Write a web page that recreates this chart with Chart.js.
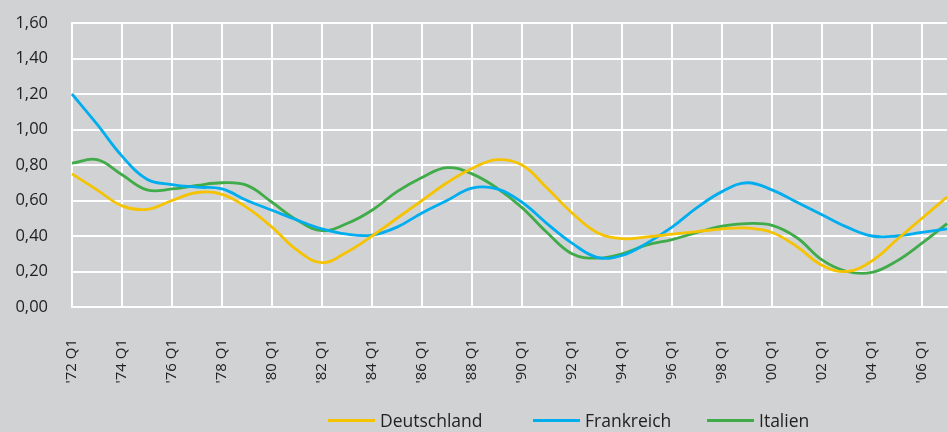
<!DOCTYPE html>
<html>
<head>
<meta charset="utf-8">
<script src="https://cdn.jsdelivr.net/npm/chart.js@4"></script>
<style>
  html, body { margin: 0; padding: 0; background: #d1d2d4; }
  #wrap { position: relative; width: 948px; height: 432px; background: #d1d2d4; overflow: hidden; }
  .item { position: absolute; top: 408px; height: 24px; display: flex; align-items: center;
          font-family: "Open Sans", "Noto Sans", sans-serif; font-size: 17.5px; color: #222; white-space: nowrap; }
  .swatch { width: 47px; height: 3px; margin-right: 5px; }
</style>
</head>
<body>
<div id="wrap">
  <canvas id="c" width="948" height="432"></canvas>
</div>
<script>
const categories = ["'72 Q1","'73 Q1","'74 Q1","'75 Q1","'76 Q1","'77 Q1","'78 Q1","'79 Q1","'80 Q1","'81 Q1",
  "'82 Q1","'83 Q1","'84 Q1","'85 Q1","'86 Q1","'87 Q1","'88 Q1","'89 Q1","'90 Q1","'91 Q1",
  "'92 Q1","'93 Q1","'94 Q1","'95 Q1","'96 Q1","'97 Q1","'98 Q1","'99 Q1","'00 Q1","'01 Q1",
  "'02 Q1","'03 Q1","'04 Q1","'05 Q1","'06 Q1","'07 Q1"];

const deutschland = [0.75,0.66,0.57,0.55,0.60,0.645,0.635,0.56,0.45,0.32,
  0.25,0.31,0.40,0.50,0.60,0.70,0.78,0.83,0.80,0.67,
  0.53,0.42,0.385,0.395,0.41,0.425,0.44,0.445,0.42,0.34,
  0.235,0.20,0.26,0.38,0.50,0.62];

const frankreich = [1.20,1.03,0.85,0.72,0.69,0.675,0.665,0.60,0.545,0.49,
  0.44,0.41,0.405,0.45,0.53,0.60,0.67,0.665,0.59,0.47,
  0.36,0.28,0.29,0.36,0.45,0.56,0.65,0.70,0.66,0.59,
  0.52,0.45,0.40,0.40,0.42,0.44];

const italien = [0.81,0.83,0.745,0.66,0.665,0.685,0.70,0.685,0.59,0.49,
  0.43,0.47,0.545,0.65,0.73,0.785,0.75,0.67,0.56,0.42,
  0.30,0.275,0.30,0.35,0.38,0.42,0.455,0.47,0.46,0.39,
  0.265,0.20,0.195,0.26,0.36,0.47];

const seriesNames = ["Deutschland", "Frankreich", "Italien"];
const seriesColors = ["#f6c300", "#00aeef", "#3fab49"];
const yTicks = [0, 0.2, 0.4, 0.6, 0.8, 1.0, 1.2, 1.4, 1.6];

const seriesData = [deutschland, frankreich, italien];
const xFont = { family: "'Open Sans', 'Noto Sans', sans-serif", size: 15 };
const yFont = { family: "'Open Sans', 'Noto Sans', sans-serif", size: 16.5 };

new Chart(document.getElementById('c'), {
  type: 'line',
  data: {
    labels: categories,
    datasets: seriesNames.map((n, i) => ({
      label: n,
      data: seriesData[i],
      borderColor: seriesColors[i],
      backgroundColor: seriesColors[i],
      borderWidth: 2.8,
      pointRadius: 0,
      tension: 0.4,
      fill: false
    }))
  },
  options: {
    responsive: false,
    animation: false,
    layout: { padding: { top: 23, right: 1, left: 0, bottom: 0 } },
    plugins: { legend: { display: false }, tooltip: { enabled: false } },
    scales: {
      x: {
        type: 'category',
        offset: false,
        grid: {
          drawTicks: false,
          lineWidth: 2,
          color: ctx => (ctx.index % 2 === 0 ? '#ffffff' : 'rgba(0,0,0,0)')
        },
        border: { color: '#ffffff', width: 2 },
        ticks: {
          autoSkip: false,
          minRotation: 90,
          maxRotation: 90,
          padding: 32,
          color: '#222',
          font: xFont,
          callback: function(v, i) { return i % 2 === 0 ? categories[i] : ''; }
        },
        afterFit: s => { s.height = 125; s.paddingLeft = 0; s.paddingRight = 0; }
      },
      y: {
        min: 0,
        max: 1.6,
        afterBuildTicks: s => { s.ticks = yTicks.map(v => ({ value: v })); },
        grid: { drawTicks: false, lineWidth: 2, color: '#ffffff' },
        border: { color: '#ffffff', width: 2 },
        ticks: {
          padding: 24,
          color: '#222',
          font: yFont,
          callback: v => Number(v).toFixed(2).replace('.', ',')
        },
        afterFit: s => { s.width = 72; s.paddingTop = 0; s.paddingBottom = 0; }
      }
    }
  }
});

const legendLefts = [328, 533, 707];
const wrap = document.getElementById('wrap');
seriesNames.forEach((n, i) => {
  const it = document.createElement('div');
  it.className = 'item';
  it.style.left = legendLefts[i] + 'px';
  const sw = document.createElement('span');
  sw.className = 'swatch';
  sw.style.background = seriesColors[i];
  const tx = document.createElement('span');
  tx.textContent = n;
  it.appendChild(sw); it.appendChild(tx);
  wrap.appendChild(it);
});
</script>
</body>
</html>
